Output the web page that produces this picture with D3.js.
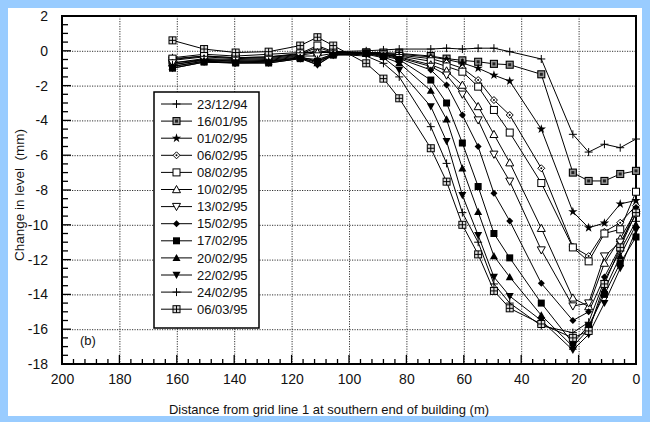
<!DOCTYPE html>
<html>
<head>
<meta charset="utf-8">
<script src="https://cdn.jsdelivr.net/npm/d3@7"></script>
<style>
  html, body { margin: 0; padding: 0; background: #99ccff; }
  svg { display: block; }
  text { font-family: "Liberation Sans", Arial, sans-serif; fill: #111; }
</style>
</head>
<body>
<svg id="chart" width="650" height="422"></svg>
<script>
// Survey stations (m from grid line 1)
const distances = [161.5, 150.5, 139.5, 128, 117, 111, 105.5, 94, 88, 82.5, 71.5, 66, 60.5, 55, 49.5, 44, 33, 22, 16.5, 11, 5.5, 0];

// Level change (mm) per survey date, one value per station
const s231294 = [-0.4, -0.2, -0.3, -0.2, -0.1, -0.1, -0.05, 0.0, 0.05, 0.1, 0.1, 0.15, 0.1, 0.15, 0.15, -0.05, -0.47, -4.8, -5.82, -5.37, -5.57, -5.07];
const s160195 = [-0.5, -0.3, -0.4, -0.35, -0.2, 0.0, -0.1, -0.1, -0.1, -0.15, -0.3, -0.45, -0.55, -0.63, -0.75, -0.8, -1.35, -7.0, -7.48, -7.48, -7.08, -6.9];
const s010295 = [-0.8, -0.5, -0.6, -0.55, -0.35, -0.6, -0.15, -0.1, -0.15, -0.2, -0.35, -0.5, -0.7, -1.0, -1.4, -1.74, -4.5, -9.25, -10.17, -9.9, -8.8, -8.6];
const s060295 = [-0.55, -0.35, -0.45, -0.4, -0.2, 0.2, -0.1, -0.1, -0.15, -0.25, -0.45, -0.7, -1.0, -1.68, -2.83, -3.69, -6.75, -11.26, -11.8, -10.4, -9.88, -8.9];
const s080295 = [-0.45, -0.3, -0.4, -0.35, -0.15, 0.3, -0.05, -0.1, -0.2, -0.3, -0.6, -0.9, -1.2, -2.06, -3.4, -4.7, -7.6, -11.3, -12.1, -10.5, -10.26, -8.1];
const s100295 = [-0.7, -0.45, -0.5, -0.45, -0.25, -0.1, -0.1, -0.1, -0.2, -0.35, -0.8, -1.15, -1.97, -3.2, -4.8, -6.43, -10.2, -14.2, -14.7, -12.2, -10.8, -9.2];
const s130295 = [-0.7, -0.5, -0.55, -0.5, -0.3, -0.3, -0.15, -0.1, -0.2, -0.4, -0.9, -1.4, -2.5, -3.98, -5.95, -7.5, -11.45, -14.67, -14.5, -11.8, -11.0, -9.4];
const s150295 = [-0.9, -0.6, -0.7, -0.65, -0.4, -0.8, -0.2, -0.15, -0.25, -0.45, -1.1, -1.97, -3.69, -5.5, -8.19, -9.78, -13.36, -15.5, -15.0, -13.0, -11.26, -9.0];
const s170295 = [-1.0, -0.65, -0.7, -0.7, -0.45, -0.6, -0.25, -0.15, -0.3, -0.5, -1.68, -3.0, -5.3, -7.8, -10.5, -11.9, -14.5, -16.8, -15.8, -14.0, -12.2, -10.7];
const s200295 = [-0.9, -0.6, -0.65, -0.6, -0.4, -0.7, -0.2, -0.15, -0.35, -0.7, -2.29, -3.94, -6.75, -9.25, -11.8, -13.0, -15.2, -17.0, -16.0, -13.75, -11.8, -10.0];
const s220295 = [-1.0, -0.65, -0.7, -0.7, -0.45, -0.8, -0.25, -0.2, -0.4, -1.1, -3.2, -5.2, -8.3, -10.6, -13.0, -14.1, -15.5, -17.2, -16.3, -14.5, -12.5, -10.3];
const s240295 = [-0.8, -0.55, -0.6, -0.6, -0.4, -0.5, -0.2, -0.3, -0.72, -1.5, -4.36, -6.47, -9.3, -11.0, -13.4, -14.5, -15.8, -16.2, -15.6, -13.2, -11.5, -9.8];
const s060395 = [0.6, 0.1, -0.1, -0.05, 0.3, 0.78, 0.3, -0.72, -1.6, -2.73, -5.6, -7.52, -10.0, -11.7, -13.8, -14.8, -15.7, -16.5, -16.1, -13.4, -11.3, -9.3];

const seriesNames = ["23/12/94", "16/01/95", "01/02/95", "06/02/95", "08/02/95", "10/02/95", "13/02/95",
                     "15/02/95", "17/02/95", "20/02/95", "22/02/95", "24/02/95", "06/03/95"];
const seriesValues = [s231294, s160195, s010295, s060295, s080295, s100295, s130295,
                      s150295, s170295, s200295, s220295, s240295, s060395];
const seriesMarkers = ["plus", "squareDot", "star", "diamondOpen", "squareOpen", "triUpOpen", "triDownOpen",
                       "diamondFilled", "squareFilled", "triUpFilled", "triDownFilled", "plus", "squarePlus"];

const xTicks = [200, 180, 160, 140, 120, 100, 80, 60, 40, 20, 0];
const xTickLabels = ["200", "180", "160", "140", "120", "100", "80", "60", "40", "20", "0"];
const yTicks = [2, 0, -2, -4, -6, -8, -10, -12, -14, -16, -18];
const yTickLabels = ["2", "0", "-2", "-4", "-6", "-8", "-10", "-12", "-14", "-16", "-18"];

(function () {
const svg = d3.select("#chart");
const W = 650, H = 422;
const pL = 62, pR = 636, pT = 16, pB = 364;

const x = d3.scaleLinear().domain([200, 0]).range([pL, pR]);
const y = d3.scaleLinear().domain([-18, 2]).range([pB, pT]);

// page panel
svg.append("rect").attr("width", W).attr("height", H).attr("fill", "#99ccff");
svg.append("rect").attr("x", 8).attr("y", 8).attr("width", 634).attr("height", 408).attr("fill", "#ffffff");

// dotted grid
const grid = svg.append("g").attr("stroke", "#333").attr("stroke-width", 1).attr("stroke-dasharray", "1.2,1.3");
grid.selectAll("line.v").data(xTicks.filter(t => t !== 200 && t !== 0)).join("line")
  .attr("x1", d => x(d) + 0.5).attr("x2", d => x(d) + 0.5).attr("y1", pT).attr("y2", pB);
grid.selectAll("line.h").data(yTicks.filter(t => t !== 2 && t !== -18)).join("line")
  .attr("x1", pL).attr("x2", pR).attr("y1", d => y(d) + 0.5).attr("y2", d => y(d) + 0.5);

// inward ticks
const xMinor = d3.range(200, -1, -4);
const yMinor = d3.range(2, -18.01, -0.5);
const ax = svg.append("g").attr("stroke", "#000").attr("stroke-width", 1.3);
ax.selectAll("line.xm").data(xMinor).join("line")
  .attr("x1", d => x(d)).attr("x2", d => x(d))
  .attr("y1", pB).attr("y2", d => pB - (xTicks.includes(d) ? 9 : 5));
ax.selectAll("line.ym").data(yMinor).join("line")
  .attr("y1", d => y(d)).attr("y2", d => y(d))
  .attr("x1", pL).attr("x2", d => pL + (yTicks.includes(Math.round(d * 10) / 10) ? 9 : 6));

svg.append("rect").attr("x", pL).attr("y", pT).attr("width", pR - pL).attr("height", pB - pT)
  .attr("fill", "none").attr("stroke", "#000").attr("stroke-width", 2);

const xAxis = d3.axisBottom(x).tickValues(xTicks).tickFormat((d, i) => xTickLabels[i]).tickSize(0).tickPadding(10);
const gx = svg.append("g").attr("transform", `translate(0,${pB})`).call(xAxis);
gx.select(".domain").remove();
gx.selectAll("text").attr("font-size", 14).attr("font-family", "Liberation Sans, Arial, sans-serif").attr("fill", "#111");

const yAxis = d3.axisLeft(y).tickValues(yTicks).tickFormat((d, i) => yTickLabels[i]).tickSize(0).tickPadding(14);
const gy = svg.append("g").attr("transform", `translate(${pL},0)`).call(yAxis);
gy.select(".domain").remove();
gy.selectAll("text").attr("font-size", 14).attr("font-family", "Liberation Sans, Arial, sans-serif").attr("fill", "#111");

// titles
svg.append("text").attr("x", 329).attr("y", 414).attr("text-anchor", "middle").attr("font-size", 13)
  .text("Distance from grid line 1 at southern end of building (m)");
svg.append("text").attr("transform", "translate(24,195) rotate(-90)").attr("text-anchor", "middle").attr("font-size", 13.5)
  .attr("xml:space", "preserve").text("Change in level  (mm)");
svg.append("text").attr("x", 80).attr("y", 345).attr("font-size", 13).text("(b)");

// marker shapes
function drawMarker(g, type, s) {
  const h = s / 2;
  switch (type) {
    case "plus":
      g.append("path").attr("d", `M${-h},0H${h}M0,${-h}V${h}`).attr("stroke", "#000").attr("stroke-width", 1).attr("fill", "none");
      break;
    case "squareDot":
      g.append("rect").attr("x", -h).attr("y", -h).attr("width", s).attr("height", s).attr("fill", "#9a9a9a").attr("stroke", "#000").attr("stroke-width", 1.1);
      g.append("rect").attr("x", -1.5).attr("y", -1.5).attr("width", 3).attr("height", 3).attr("fill", "#222");
      break;
    case "star":
      g.append("path").attr("d", d3.symbol(d3.symbolStar, s * s * 0.42)()).attr("fill", "#000");
      break;
    case "diamondOpen":
      g.append("path").attr("d", `M0,${-h}L${h},0L0,${h}L${-h},0Z`).attr("fill", "#fff").attr("stroke", "#000").attr("stroke-width", 1);
      g.append("circle").attr("r", 1).attr("fill", "#000");
      break;
    case "squareOpen":
      g.append("rect").attr("x", -h).attr("y", -h).attr("width", s).attr("height", s).attr("fill", "#fff").attr("stroke", "#000").attr("stroke-width", 1);
      break;
    case "triUpOpen":
      g.append("path").attr("d", `M0,${-h}L${h},${h * 0.8}L${-h},${h * 0.8}Z`).attr("fill", "#fff").attr("stroke", "#000").attr("stroke-width", 1);
      break;
    case "triDownOpen":
      g.append("path").attr("d", `M0,${h}L${h},${-h * 0.8}L${-h},${-h * 0.8}Z`).attr("fill", "#fff").attr("stroke", "#000").attr("stroke-width", 1);
      break;
    case "diamondFilled":
      g.append("path").attr("d", `M0,${-h}L${h},0L0,${h}L${-h},0Z`).attr("fill", "#000");
      break;
    case "squareFilled":
      g.append("rect").attr("x", -h).attr("y", -h).attr("width", s).attr("height", s).attr("fill", "#000");
      break;
    case "triUpFilled":
      g.append("path").attr("d", `M0,${-h}L${h},${h * 0.8}L${-h},${h * 0.8}Z`).attr("fill", "#000");
      break;
    case "triDownFilled":
      g.append("path").attr("d", `M0,${h}L${h},${-h * 0.8}L${-h},${-h * 0.8}Z`).attr("fill", "#000");
      break;
    case "squarePlus":
      g.append("rect").attr("x", -h).attr("y", -h).attr("width", s).attr("height", s).attr("fill", "#ddd").attr("stroke", "#000").attr("stroke-width", 1);
      g.append("path").attr("d", `M${-h},0H${h}M0,${-h}V${h}`).attr("stroke", "#000").attr("stroke-width", 1);
      break;
  }
}
const markerSize = {plus: 8, squareDot: 7, star: 8, diamondOpen: 7, squareOpen: 7, triUpOpen: 8, triDownOpen: 8,
                    diamondFilled: 7, squareFilled: 7, triUpFilled: 8, triDownFilled: 8, squarePlus: 7};

// series lines and markers
const line = d3.line().x((d, i) => x(distances[i])).y(d => y(d));
const plot = svg.append("g");
seriesValues.forEach(vals => {
  plot.append("path").datum(vals).attr("d", line).attr("fill", "none").attr("stroke", "#000").attr("stroke-width", 1);
});
seriesValues.forEach((vals, k) => {
  const type = seriesMarkers[k];
  vals.forEach((v, i) => {
    const g = plot.append("g").attr("transform", `translate(${x(distances[i])},${y(v)})`);
    drawMarker(g, type, markerSize[type]);
  });
});

// legend
const lg = svg.append("g");
lg.append("rect").attr("x", 154).attr("y", 92).attr("width", 105).attr("height", 236)
  .attr("fill", "#fff").attr("stroke", "#000").attr("stroke-width", 1.5);
seriesNames.forEach((name, k) => {
  const cy = 104 + k * 17.1;
  lg.append("line").attr("x1", 161).attr("x2", 192).attr("y1", cy).attr("y2", cy).attr("stroke", "#000").attr("stroke-width", 1);
  const g = lg.append("g").attr("transform", `translate(176.5,${cy})`);
  drawMarker(g, seriesMarkers[k], markerSize[seriesMarkers[k]]);
  lg.append("text").attr("x", 197).attr("y", cy + 4.6).attr("font-size", 13).text(name);
});
})();
</script>
</body>
</html>
